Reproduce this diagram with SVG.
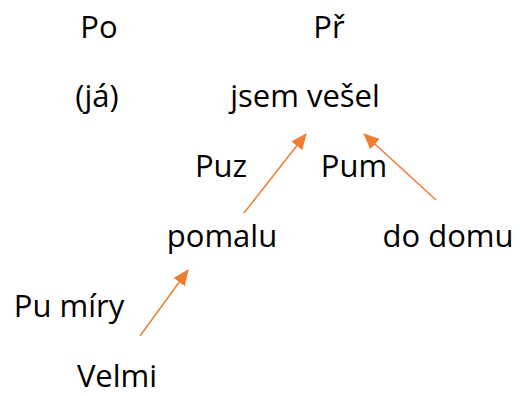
<svg xmlns="http://www.w3.org/2000/svg" width="520" height="396" viewBox="0 0 520 396">
<style>
text{font-family:"Open Sans","Liberation Sans",Arial,sans-serif;font-size:31px;fill:#000;text-anchor:middle}
.c{stroke:#ED7D31;stroke-width:1.5;fill:none}
</style>
<defs>
<marker id="a" viewBox="0 0 16 14" refX="15" refY="7" markerWidth="16" markerHeight="14" markerUnits="userSpaceOnUse" orient="auto">
<path d="M0,0 L16,7 L0,14 Z" fill="#ED7D31"/>
</marker>
</defs>
<rect width="520" height="396" fill="#fff"/>
<g id="connectors">
<line class="c" x1="244" y1="213" x2="306" y2="134" marker-end="url(#a)"/>
<line class="c" x1="436" y1="200" x2="364" y2="134" marker-end="url(#a)"/>
<line class="c" x1="140" y1="336" x2="188" y2="270" marker-end="url(#a)"/>
</g>
<g id="po"><text x="99" y="38">Po</text></g>
<g id="pr"><text x="329" y="38">Př</text></g>
<g id="ja"><text x="97" y="107">(já)</text></g>
<g id="jsem"><text x="305" y="107">jsem vešel</text></g>
<g id="puz"><text x="221" y="177">Puz</text></g>
<g id="pum"><text x="354" y="177">Pum</text></g>
<g id="pomalu"><text x="222" y="247">pomalu</text></g>
<g id="dodomu"><text x="448" y="247">do domu</text></g>
<g id="pumiry"><text x="69" y="317">Pu míry</text></g>
<g id="velmi"><text x="117" y="387">Velmi</text></g>
</svg>
